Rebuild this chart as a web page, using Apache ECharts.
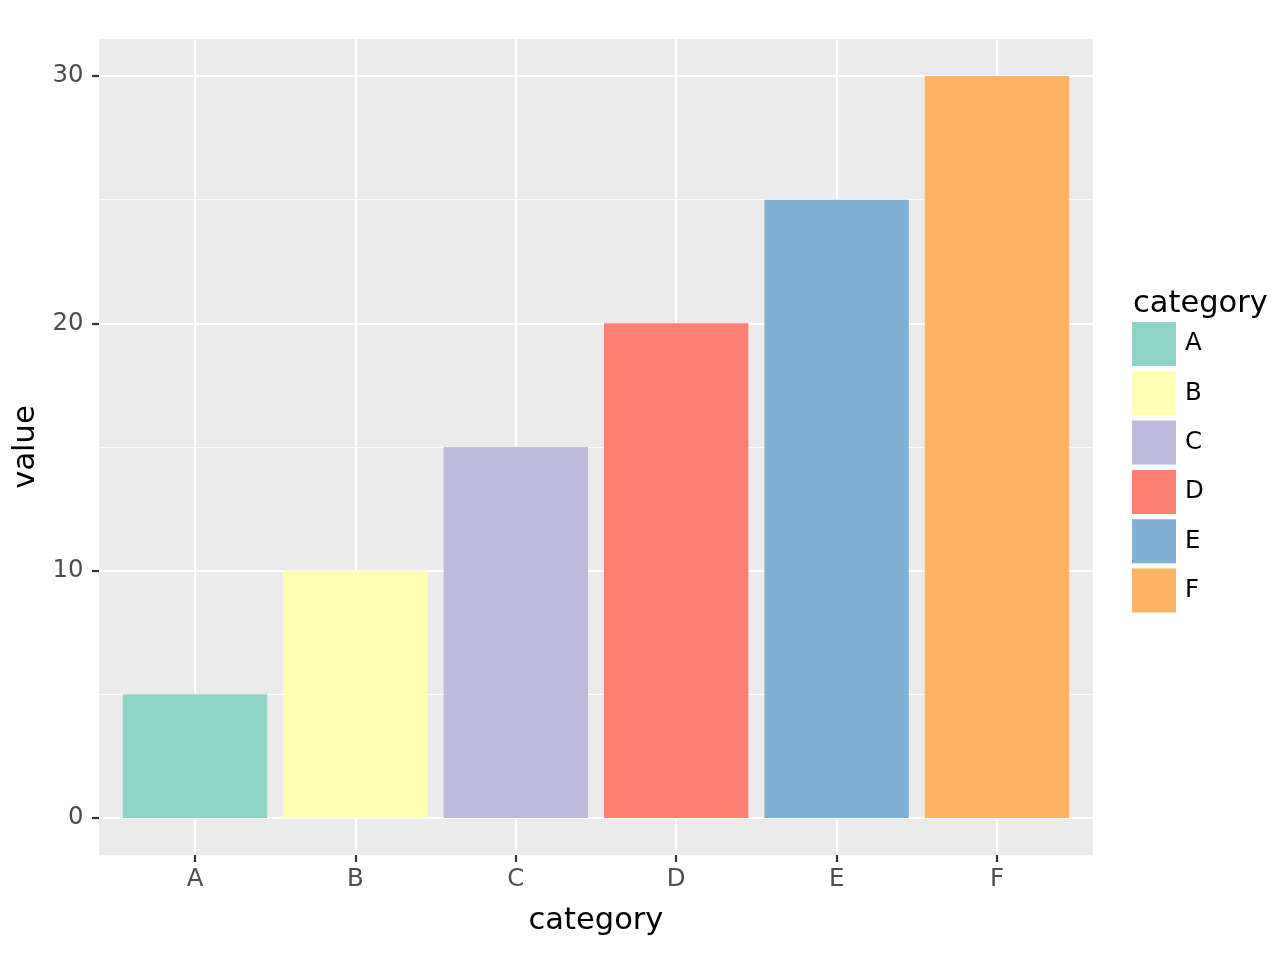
<!DOCTYPE html>
<html><head><meta charset="utf-8">
<script src="https://cdn.jsdelivr.net/npm/echarts@6/dist/echarts.min.js"></script>
<style>html,body{margin:0;padding:0;background:#fff}#c{width:1280px;height:960px}</style>
</head><body><div id="c"></div>
<script>
const categories = ['A', 'B', 'C', 'D', 'E', 'F'];
const values = [5, 10, 15, 20, 25, 30];
const colors = ['#8DD3C7', '#FFFFB3', '#BEBADA', '#FB8072', '#80B1D3', '#FDB462'];
const xTitle = 'category';
const yTitle = 'value';
const legendTitle = 'category';

const FONT = 'DejaVu Sans';
const chart = echarts.init(document.getElementById('c'), null, {renderer: 'canvas'});

const series = categories.map((c, i) => ({
  name: c,
  type: 'bar',
  xAxisIndex: 3,
  yAxisIndex: 3,
  stack: 'all',
  barWidth: 144.4,
  clip: false,
  z: 3,
  itemStyle: {color: colors[i], borderWidth: 0},
  emphasis: {disabled: true},
  data: values.map((v, j) => (j === i ? v : '-'))
}));

chart.setOption({
  animation: false,
  textStyle: {fontFamily: FONT},
  title: {
    text: legendTitle, left: 1133, top: 289, padding: 0,
    textStyle: {fontSize: 30.5, fontWeight: 'normal', color: '#000', fontFamily: FONT}
  },
  legend: {
    orient: 'vertical', left: 1132, top: 322, padding: 0,
    itemWidth: 44, itemHeight: 44, itemGap: 5.3, icon: 'rect',
    selectedMode: false,
    data: categories,
    textStyle: {fontSize: 24.4, color: '#000', fontFamily: FONT, padding: [0, 0, 0, 4]}
  },
  grid: [
    {left: 99, top: 39, width: 994, height: 816, show: true, backgroundColor: '#EBEBEB', borderWidth: 0, z: 0},
    {left: 99, top: 76, width: 994, height: 742, z: 0},
    {left: 195, top: 39, width: 802, height: 816, z: 0},
    {left: 195, top: 76, width: 802, height: 742, z: 0},
    // tick carrier: its zero line sits on the panel's bottom edge (y = 855)
    {left: 195, top: 815, width: 802, height: 80, z: 0}
  ],
  xAxis: [
    {gridIndex: 0, type: 'value', show: false, min: 0, max: 1},
    {gridIndex: 1, type: 'value', show: false, min: 0, max: 1},
    {
      gridIndex: 2, type: 'category', data: categories, boundaryGap: false, z: 1,
      position: 'bottom',
      axisLine: {show: false},
      axisTick: {show: false},
      axisLabel: {interval: 0, margin: 13, fontSize: 24.4, color: '#4D4D4D', fontFamily: FONT},
      splitLine: {show: true, interval: 0, lineStyle: {color: '#FFFFFF', width: 2.2}},
      name: xTitle, nameLocation: 'middle', nameGap: 50.5,
      nameTextStyle: {fontSize: 30.5, color: '#000', fontFamily: FONT}
    },
    {gridIndex: 3, type: 'category', data: categories, boundaryGap: false, show: false},
    {
      gridIndex: 4, type: 'category', data: categories, boundaryGap: false, z: 5,
      position: 'bottom',
      axisLine: {show: false, onZero: true},
      axisTick: {show: true, interval: 0, length: 7, lineStyle: {color: '#333333', width: 2.2}},
      axisLabel: {show: false},
      splitLine: {show: false}
    }
  ],
  yAxis: [
    {gridIndex: 0, type: 'value', show: false, min: 0, max: 1},
    {
      gridIndex: 1, type: 'value', min: 0, max: 30, interval: 10, z: 1,
      axisLine: {show: false},
      axisTick: {show: true, length: 7, lineStyle: {color: '#333333', width: 2.2}},
      axisLabel: {margin: 15.5, fontSize: 24.4, color: '#4D4D4D', fontFamily: FONT},
      splitLine: {show: true, lineStyle: {color: '#FFFFFF', width: 2.2}},
      minorTick: {show: false, splitNumber: 2},
      minorSplitLine: {show: true, lineStyle: {color: '#FFFFFF', width: 1.1}},
      name: yTitle, nameLocation: 'middle', nameRotate: 90, nameGap: 50,
      nameTextStyle: {fontSize: 30.5, color: '#000', fontFamily: FONT}
    },
    {gridIndex: 2, type: 'value', show: false, min: 0, max: 1},
    {gridIndex: 3, type: 'value', show: false, min: 0, max: 30},
    {gridIndex: 4, type: 'value', show: false, min: -1, max: 1}
  ],
  series: series
});
</script>
</body></html>
